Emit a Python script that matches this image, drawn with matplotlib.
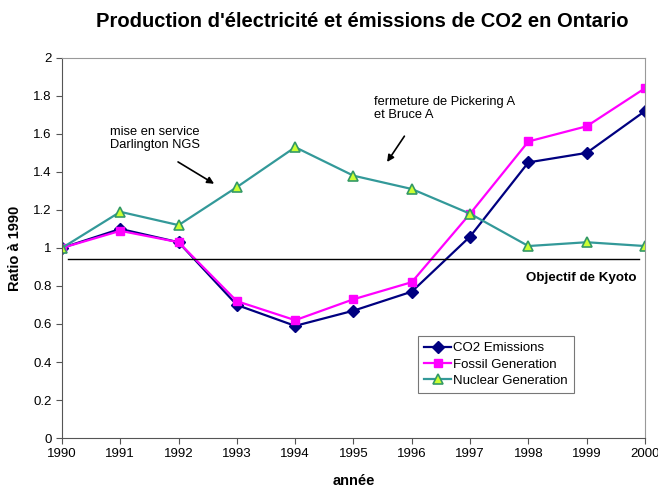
import matplotlib
matplotlib.use("Agg")
import matplotlib.pyplot as plt

plt.rcParams['font.family'] = ['Liberation Sans', 'DejaVu Sans']

years = [1990, 1991, 1992, 1993, 1994, 1995, 1996, 1997, 1998, 1999, 2000]
co2 = [1.0, 1.10, 1.03, 0.70, 0.59, 0.67, 0.77, 1.06, 1.45, 1.50, 1.72]
fossil = [1.0, 1.09, 1.03, 0.72, 0.62, 0.73, 0.82, 1.18, 1.56, 1.64, 1.84]
nuclear = [1.0, 1.19, 1.12, 1.32, 1.53, 1.38, 1.31, 1.18, 1.01, 1.03, 1.01]
kyoto = 0.94
yticks = [0, 0.2, 0.4, 0.6, 0.8, 1, 1.2, 1.4, 1.6, 1.8, 2]
ytick_labels = ["0", "0.2", "0.4", "0.6", "0.8", "1", "1.2", "1.4", "1.6", "1.8", "2"]

fig = plt.figure(figsize=(6.58, 4.90), dpi=100)
ax = fig.add_axes([0.0942, 0.106, 0.886, 0.776])

ax.plot(years, co2, color='#000080', marker='D', markersize=6, lw=1.6,
        label='CO2 Emissions')
ax.plot(years, fossil, color='#FF00FF', marker='s', markersize=5.5, lw=1.6,
        label='Fossil Generation')
ax.plot(years, nuclear, color='#339999', marker='^', markersize=7, lw=1.6,
        markerfacecolor='#CCFF33', markeredgecolor='#339966', markeredgewidth=1.2,
        label='Nuclear Generation')

ax.plot([1990.1, 1999.9], [kyoto, kyoto], color='black', lw=1.0)
ax.text(1999.85, kyoto - 0.065, "Objectif de Kyoto", fontsize=9.6, fontweight='bold',
        ha='right', va='top')

ax.text(1990.82, 1.575, "mise en service\nDarlington NGS", fontsize=9.3, ha='left', va='center',
        linespacing=1.1)
ax.annotate("", xy=(1992.65, 1.33), xytext=(1991.95, 1.46),
            arrowprops=dict(arrowstyle='-|>', color='black', lw=1.2, mutation_scale=10))
ax.text(1995.35, 1.735, "fermeture de Pickering A\net Bruce A", fontsize=9.3, ha='left', va='center',
        linespacing=1.1)
ax.annotate("", xy=(1995.55, 1.44), xytext=(1995.9, 1.60),
            arrowprops=dict(arrowstyle='-|>', color='black', lw=1.2, mutation_scale=10))

ax.set_xlim(1990, 2000)
ax.set_ylim(0, 2)
ax.set_xticks(years)
ax.set_xticklabels([str(y) for y in years], fontsize=9.5)
ax.set_yticks(yticks)
ax.set_yticklabels(ytick_labels, fontsize=9.5)
ax.tick_params(axis='both', direction='out', length=4, width=0.8, color='#555555')

for s in ['top', 'right']:
    ax.spines[s].set_color('#999999')
for s in ['left', 'bottom']:
    ax.spines[s].set_color('#555555')

ax.set_xlabel("année", fontsize=10.5, fontweight='bold', labelpad=10)
ax.set_ylabel("Ratio à 1990", fontsize=10.5, fontweight='bold', labelpad=8)
fig.suptitle("Production d'électricité et émissions de CO2 en Ontario", x=0.55, y=0.975,
             fontsize=14.5, fontweight='bold')

leg = ax.legend(loc='upper left', bbox_to_anchor=(0.6, 0.285), fontsize=9.5,
                frameon=True, fancybox=False, edgecolor='#555555', handlelength=2.0,
                handletextpad=0.2, borderpad=0.45, labelspacing=0.3)
leg.get_frame().set_linewidth(0.8)

fig.savefig("out.png", dpi=100)
